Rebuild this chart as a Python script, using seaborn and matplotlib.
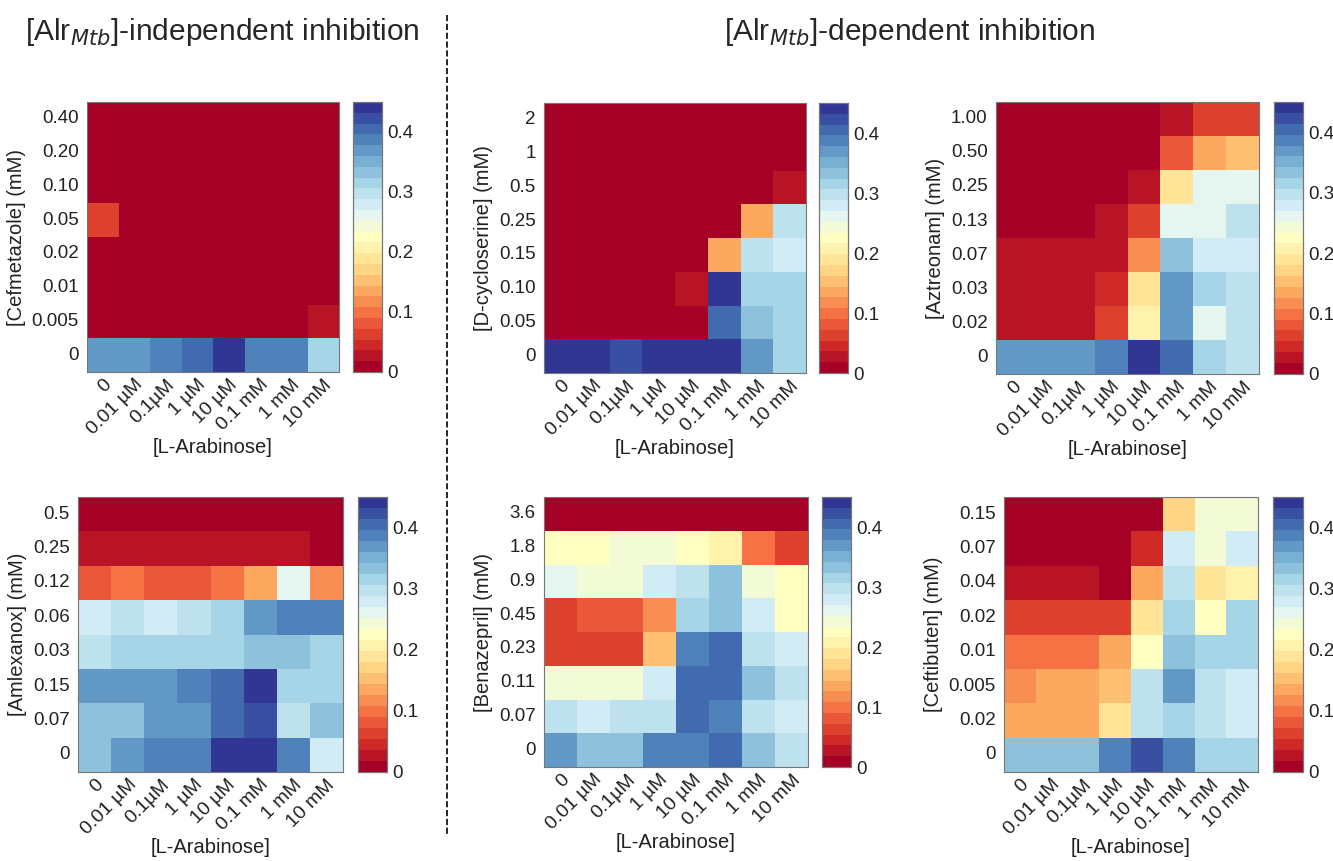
import matplotlib
matplotlib.use('Agg')
import matplotlib.pyplot as plt
import seaborn as sns
import numpy as np
import pandas as pd
from matplotlib.colors import ListedColormap

sns.set_style('white')
plt.rcParams['font.family'] = ['Liberation Sans', 'DejaVu Sans']

arabinose = ['0', '0.01 µM', '0.1µM', '1 µM', '10 µM', '0.1 mM', '1 mM', '10 mM']

# drug concentrations (top to bottom, as labelled)
cefmetazole_conc = ['0.40', '0.20', '0.10', '0.05', '0.02', '0.01', '0.005', '0']
cefmetazole = [
    [0.01] * 8,
    [0.01] * 8,
    [0.01] * 8,
    [0.06, 0.01, 0.01, 0.01, 0.01, 0.01, 0.01, 0.01],
    [0.01] * 8,
    [0.01] * 8,
    [0.01, 0.01, 0.01, 0.01, 0.01, 0.01, 0.01, 0.03],
    [0.37, 0.37, 0.39, 0.41, 0.44, 0.39, 0.39, 0.32],
]

cycloserine_conc = ['2', '1', '0.5', '0.25', '0.15', '0.10', '0.05', '0']
cycloserine = [
    [0.01] * 8,
    [0.01] * 8,
    [0.01, 0.01, 0.01, 0.01, 0.01, 0.01, 0.01, 0.03],
    [0.01, 0.01, 0.01, 0.01, 0.01, 0.01, 0.14, 0.29],
    [0.01, 0.01, 0.01, 0.01, 0.01, 0.14, 0.29, 0.27],
    [0.01, 0.01, 0.01, 0.01, 0.03, 0.44, 0.32, 0.31],
    [0.01, 0.01, 0.01, 0.01, 0.01, 0.40, 0.33, 0.31],
    [0.44, 0.44, 0.42, 0.44, 0.44, 0.44, 0.36, 0.32],
]

aztreonam_conc = ['1.00', '0.50', '0.25', '0.13', '0.07', '0.03', '0.02', '0']
aztreonam = [
    [0.01, 0.01, 0.01, 0.01, 0.01, 0.03, 0.06, 0.06],
    [0.01, 0.01, 0.01, 0.01, 0.01, 0.08, 0.14, 0.16],
    [0.01, 0.01, 0.01, 0.01, 0.03, 0.18, 0.26, 0.26],
    [0.01, 0.01, 0.01, 0.03, 0.06, 0.26, 0.26, 0.30],
    [0.03, 0.03, 0.03, 0.03, 0.11, 0.33, 0.28, 0.28],
    [0.03, 0.03, 0.03, 0.05, 0.18, 0.36, 0.32, 0.30],
    [0.03, 0.03, 0.03, 0.07, 0.20, 0.36, 0.26, 0.30],
    [0.36, 0.36, 0.36, 0.39, 0.44, 0.41, 0.32, 0.30],
]

amlexanox_conc = ['0.5', '0.25', '0.12', '0.06', '0.03', '0.15', '0.07', '0']
amlexanox = [
    [0.01] * 8,
    [0.03, 0.03, 0.03, 0.03, 0.03, 0.03, 0.03, 0.01],
    [0.08, 0.10, 0.08, 0.08, 0.10, 0.14, 0.26, 0.12],
    [0.28, 0.30, 0.28, 0.30, 0.32, 0.36, 0.38, 0.38],
    [0.30, 0.32, 0.32, 0.32, 0.32, 0.34, 0.34, 0.32],
    [0.36, 0.36, 0.36, 0.38, 0.40, 0.44, 0.32, 0.32],
    [0.34, 0.34, 0.36, 0.36, 0.40, 0.42, 0.30, 0.34],
    [0.34, 0.36, 0.38, 0.38, 0.44, 0.44, 0.38, 0.28],
]

benazepril_conc = ['3.6', '1.8', '0.9', '0.45', '0.23', '0.11', '0.07', '0']
benazepril = [
    [0.01] * 8,
    [0.23, 0.23, 0.25, 0.25, 0.23, 0.21, 0.09, 0.06],
    [0.26, 0.25, 0.25, 0.27, 0.30, 0.34, 0.25, 0.22],
    [0.06, 0.08, 0.08, 0.11, 0.32, 0.34, 0.27, 0.23],
    [0.06, 0.06, 0.06, 0.16, 0.38, 0.40, 0.30, 0.27],
    [0.25, 0.25, 0.25, 0.27, 0.41, 0.41, 0.34, 0.29],
    [0.29, 0.27, 0.29, 0.29, 0.41, 0.39, 0.30, 0.27],
    [0.36, 0.34, 0.34, 0.38, 0.39, 0.41, 0.34, 0.29],
]

ceftibuten_conc = ['0.15', '0.07', '0.04', '0.02', '0.01', '0.005', '0.02', '0']
ceftibuten = [
    [0.01, 0.01, 0.01, 0.01, 0.01, 0.17, 0.25, 0.25],
    [0.01, 0.01, 0.01, 0.01, 0.04, 0.27, 0.25, 0.27],
    [0.03, 0.03, 0.03, 0.01, 0.13, 0.29, 0.19, 0.21],
    [0.06, 0.06, 0.06, 0.06, 0.18, 0.32, 0.23, 0.31],
    [0.09, 0.09, 0.09, 0.13, 0.23, 0.34, 0.32, 0.31],
    [0.11, 0.14, 0.14, 0.16, 0.29, 0.36, 0.29, 0.27],
    [0.14, 0.14, 0.14, 0.18, 0.29, 0.31, 0.29, 0.27],
    [0.34, 0.34, 0.34, 0.38, 0.42, 0.38, 0.32, 0.31],
]

panels = [
    ('[Cefmetazole] (mM)', cefmetazole_conc, cefmetazole, (87, 102, 252, 270), (353, 29)),
    ('[D-cycloserine] (mM)', cycloserine_conc, cycloserine, (544, 103, 262, 270), (819, 29)),
    ('[Aztreonam] (mM)', aztreonam_conc, aztreonam, (996, 102, 263, 272), (1274, 29)),
    ('[Amlexanox] (mM)', amlexanox_conc, amlexanox, (78, 497, 265, 275), (358, 29)),
    ('[Benazepril] (mM)', benazepril_conc, benazepril, (544, 497, 264, 270), (822, 29)),
    ('[Ceftibuten] (mM)', ceftibuten_conc, ceftibuten, (1004, 497, 254, 275), (1273, 30)),
]

W, H = 1333, 861
cmap = ListedColormap(plt.get_cmap('RdYlBu')(np.linspace(0, 1, 25)))
fig = plt.figure(figsize=(W / 100, H / 100), dpi=100)


def px_rect(x, y, w, h):
    return [x / W, 1 - (y + h) / H, w / W, h / H]


for ylabel, conc, values, (x, y, w, h), (cx, cw) in panels:
    ax = fig.add_axes(px_rect(x, y, w, h))
    cax = fig.add_axes(px_rect(cx, y, cw, h))
    df = pd.DataFrame(values, index=conc, columns=arabinose)
    sns.heatmap(df, ax=ax, cbar_ax=cax, cmap=cmap, vmin=0, vmax=0.45)
    ax.set_xlabel('[L-Arabinose]', fontsize=14.5, color='#222222', labelpad=0)
    ax.set_ylabel(ylabel, fontsize=14.5, color='#222222')
    ax.set_xticklabels(arabinose, rotation=45, ha='right', rotation_mode='anchor', fontsize=14)
    ax.set_yticklabels(conc, rotation=0, fontsize=13.5)
    ax.tick_params(direction='in', length=3, top=True, right=True, color='#555555',
                   labelcolor='#222222')
    ax.tick_params(axis='x', pad=3)
    ax.tick_params(axis='y', pad=6)
    for s in ax.spines.values():
        s.set_visible(True)
        s.set_color('#777777')
        s.set_linewidth(0.8)
    cax.set_yticks([0, 0.1, 0.2, 0.3, 0.4])
    cax.set_yticklabels(['0', '0.1', '0.2', '0.3', '0.4'])
    cax.tick_params(direction='in', length=3, labelsize=13.5, color='#555555',
                    labelcolor='#222222', pad=4)
    for s in cax.spines.values():
        s.set_visible(True)
        s.set_color('#777777')
        s.set_linewidth(0.8)

fig.text(222 / W, 1 - 32 / H, r'[Alr$_{\mathit{Mtb}}$]-independent inhibition',
         ha='center', va='center', fontsize=21.5)
fig.text(910 / W, 1 - 32 / H, r'[Alr$_{\mathit{Mtb}}$]-dependent inhibition',
         ha='center', va='center', fontsize=21.5)
fig.add_artist(plt.Line2D([447 / W, 447 / W], [1 - 15 / H, 1 - 835 / H],
                          color='black', linestyle='--', linewidth=1.2))

fig.savefig('out.png', dpi=100)
